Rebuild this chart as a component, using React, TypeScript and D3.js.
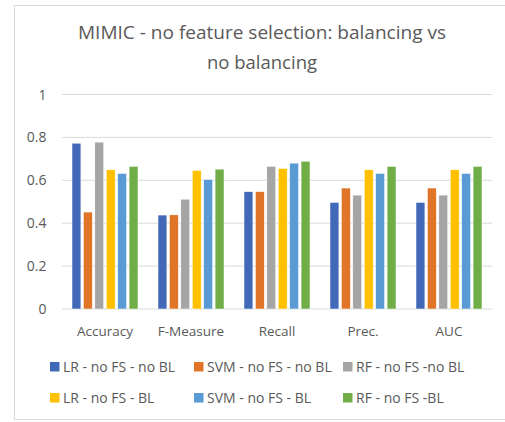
import React from "react";
import * as d3 from "d3";

const categories = ["Accuracy", "F-Measure", "Recall", "Prec.", "AUC"];
const seriesNames = [
  "LR - no FS - no BL",
  "SVM - no FS - no BL",
  "RF - no FS -no BL",
  "LR - no FS - BL",
  "SVM - no FS - BL",
  "RF - no FS -BL",
];
const lrNoBL = [0.773, 0.438, 0.547, 0.497, 0.497];
const svmNoBL = [0.452, 0.439, 0.547, 0.564, 0.564];
const rfNoBL = [0.778, 0.512, 0.665, 0.531, 0.531];
const lrBL = [0.649, 0.646, 0.655, 0.649, 0.649];
const svmBL = [0.632, 0.604, 0.68, 0.632, 0.632];
const rfBL = [0.665, 0.652, 0.689, 0.665, 0.665];
const yTicks = [0, 0.2, 0.4, 0.6, 0.8, 1];
const yTickLabels = ["0", "0.2", "0.4", "0.6", "0.8", "1"];
const colors = ["#4269B8", "#E07427", "#A5A5A5", "#FFC000", "#5B9BD5", "#70AD47"];

const series = [lrNoBL, svmNoBL, rfNoBL, lrBL, svmBL, rfBL];

export default function App() {
  const W = 505;
  const H = 422;
  const x0 = d3.scaleBand().domain(categories).range([62, 492]).paddingInner(0).paddingOuter(0);
  const x1 = d3
    .scaleBand()
    .domain(seriesNames)
    .range([10, x0.bandwidth() - 10])
    .paddingInner(0.22)
    .paddingOuter(0);
  const y = d3.scaleLinear().domain([0, 1]).range([309, 94.5]);
  const font = "'Open Sans', 'Liberation Sans', sans-serif";
  const grey = "#595959";

  const legendCols = [50, 194, 343];
  const legendRows = [367, 398];

  return (
    <svg
      width={W}
      height={H}
      style={{ position: "absolute", left: 0, top: 0, background: "#fff" }}
      fontFamily={font}
    >
      <rect x={0} y={0} width={W} height={H} fill="#fff" />
      <path d={`M505,5.5 H14.5 V419.5 H505`} fill="none" stroke="#d9d9d9" strokeWidth={1} />
      <text x={262} y={38.5} textAnchor="middle" fontSize={18.5} fill={grey} textLength={368} lengthAdjust="spacingAndGlyphs">
        MIMIC - no feature selection: balancing vs
      </text>
      <text x={262} y={69} textAnchor="middle" fontSize={18.5} fill={grey}>
        no balancing
      </text>
      {yTicks.map((t, i) => (
        <g key={t}>
          <line x1={62} x2={492} y1={y(t)} y2={y(t)} stroke="#d9d9d9" strokeWidth={1} />
          <text x={46.5} y={y(t) + 5} textAnchor="end" fontSize={14} fill={grey}>
            {yTickLabels[i]}
          </text>
        </g>
      ))}
      {categories.map((c, ci) => (
        <g key={c} transform={`translate(${x0(c)},0)`}>
          {series.map((s, si) => (
            <rect
              key={si}
              x={x1(seriesNames[si])}
              y={y(s[ci])}
              width={x1.bandwidth()}
              height={y(0) - y(s[ci])}
              fill={colors[si]}
              stroke="#fff"
              strokeWidth={0.5}
            />
          ))}
          <text x={x0.bandwidth() / 2} y={336} textAnchor="middle" fontSize={13.5} fill={grey}>
            {c}
          </text>
        </g>
      ))}
      {seriesNames.map((n, i) => {
        const cx = legendCols[i % 3];
        const cy = legendRows[Math.floor(i / 3)];
        return (
          <g key={n}>
            <rect x={cx} y={cy - 5} width={9.5} height={9.5} fill={colors[i]} />
            <text x={cx + 13} y={cy + 5} fontSize={14} fill={grey}>
              {n}
            </text>
          </g>
        );
      })}
    </svg>
  );
}
